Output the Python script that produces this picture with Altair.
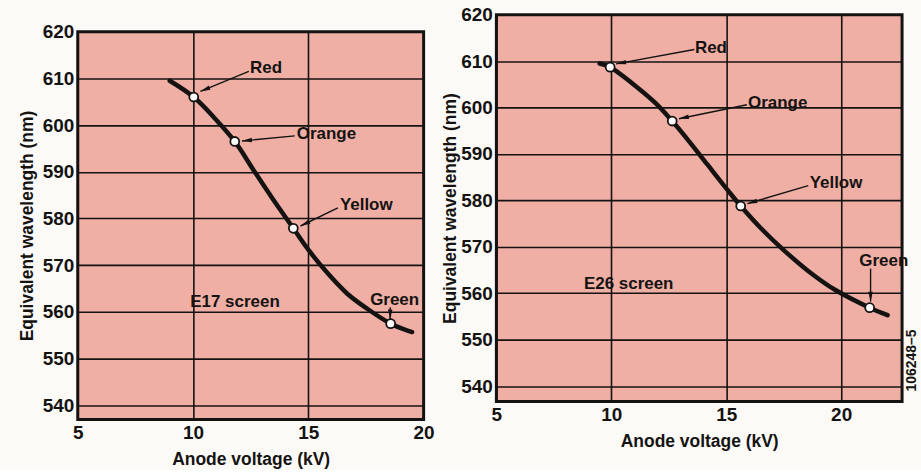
import math
import altair as alt
import pandas as pd

FONT = "Liberation Sans Narrow, Liberation Sans, sans-serif"
INK = "#151312"
PINK = "#EFAFA5"

# ---------------- E17 screen (left panel) ----------------
E17_CURVE_KV = [8.99, 10.03, 10.99, 11.81, 12.62, 13.43, 14.35, 15.05, 15.87, 16.69, 17.52, 18.57, 19.5]
E17_CURVE_NM = [609.5, 606.0, 601.2, 596.5, 590.4, 584.4, 577.9, 573.0, 568.1, 563.9, 560.8, 557.5, 555.7]
E17_MARK_KV = [10.03, 11.81, 14.35, 18.57]
E17_MARK_NM = [606.0, 596.5, 577.9, 557.5]
E17_LABELS = ["Red", "Orange", "Yellow", "Green"]
E17_LABEL_KV = [12.47, 14.5, 16.37, 17.68]
E17_LABEL_NM = [612.3, 598.1, 582.8, 562.5]
E17_ARROW_FROM_KV = [12.42, 14.41, 16.28, 18.55]
E17_ARROW_FROM_NM = [611.5, 597.7, 582.3, 561.0]
E17_ARROW_TO_KV = [10.32, 12.12, 14.66, 18.55]
E17_ARROW_TO_NM = [607.2, 596.6, 578.4, 558.4]
E17_SCREEN = ("E17 screen", 9.88, 562.1)

# ---------------- E26 screen (right panel) ----------------
E26_CURVE_KV = [9.49, 9.95, 11.12, 11.96, 12.65, 13.34, 14.17, 15.0, 15.63, 16.53, 17.5, 18.62, 19.75, 21.24, 22.02]
E26_CURVE_NM = [609.5, 608.7, 604.4, 600.8, 597.1, 593.0, 587.8, 582.6, 578.8, 573.9, 569.3, 564.6, 560.7, 556.9, 555.3]
E26_MARK_KV = [9.95, 12.65, 15.63, 21.24]
E26_MARK_NM = [608.7, 597.1, 578.8, 556.9]
E26_LABELS = ["Red", "Orange", "Yellow", "Green"]
E26_LABEL_KV = [13.64, 15.95, 18.63, 20.79]
E26_LABEL_NM = [612.8, 601.0, 583.7, 566.9]
E26_ARROW_FROM_KV = [13.61, 15.9, 18.57, 21.28]
E26_ARROW_FROM_NM = [612.5, 600.6, 583.2, 565.3]
E26_ARROW_TO_KV = [10.21, 12.94, 15.92, 21.28]
E26_ARROW_TO_NM = [609.4, 597.6, 579.3, 558.2]
E26_SCREEN = ("E26 screen", 8.81, 562.0)

FIG_CODE = ("106248\u20135", 23.1, 545.5)

X_TICKS_LEFT = [5, 10, 15, 20]
X_TICKS_RIGHT = [5, 10, 15, 20]
Y_TICKS = [540, 550, 560, 570, 580, 590, 600, 610, 620]

ARROW_PATH = "M0,0L0.45,2L-0.45,2Z"


def panel(curve_kv, curve_nm, mk_kv, mk_nm, labels, lab_kv, lab_nm,
          f_kv, f_nm, t_kv, t_nm, screen, xdom, ydom, xticks, w, h,
          y_title_pad, extra_text=None):
    sx = w / (xdom[1] - xdom[0])
    sy = h / (ydom[1] - ydom[0])
    xs = alt.Scale(domain=xdom, nice=False, zero=False)
    ys = alt.Scale(domain=ydom, nice=False, zero=False)

    curve = pd.DataFrame({"kv": curve_kv, "nm": curve_nm})
    marks = pd.DataFrame({"kv": mk_kv, "nm": mk_nm})
    labs = pd.DataFrame({"kv": lab_kv, "nm": lab_nm, "t": labels})
    angles = []
    for a, b, c, d in zip(f_kv, f_nm, t_kv, t_nm):
        dx = (c - a) * sx
        dy = -(d - b) * sy
        angles.append(math.degrees(math.atan2(dx, -dy)) % 360)
    arrows = pd.DataFrame({"x1": f_kv, "y1": f_nm, "x2": t_kv, "y2": t_nm, "ang": angles})
    scr = pd.DataFrame({"kv": [screen[1]], "nm": [screen[2]], "t": [screen[0]]})

    xaxis = alt.Axis(values=xticks, title="Anode voltage (kV)", grid=True, gridColor=INK,
                     gridWidth=1.6, gridOpacity=1, domain=False, ticks=False,
                     labelFont=FONT, labelFontSize=19, labelFontWeight="bold", labelColor=INK,
                     labelPadding=4, labelFlush=False, titleFont=FONT, titleFontSize=17.5,
                     titleFontWeight="bold", titleColor=INK, titlePadding=8)
    yaxis = alt.Axis(values=Y_TICKS, title="Equivalent wavelength (nm)", grid=True, gridColor=INK,
                     gridWidth=1.6, gridOpacity=1, domain=False, ticks=False,
                     labelFont=FONT, labelFontSize=19, labelFontWeight="bold", labelColor=INK,
                     labelPadding=4, titleFont=FONT, titleFontSize=17.5,
                     titleFontWeight="bold", titleColor=INK, titlePadding=y_title_pad)

    line = alt.Chart(curve).mark_line(color=INK, strokeWidth=4.5, interpolate="catmull-rom",
                                      strokeCap="round").encode(
        x=alt.X("kv:Q", scale=xs, axis=xaxis),
        y=alt.Y("nm:Q", scale=ys, axis=yaxis),
    )
    rules = alt.Chart(arrows).mark_rule(color=INK, strokeWidth=1.4).encode(
        x=alt.X("x1:Q", scale=xs), y=alt.Y("y1:Q", scale=ys), x2="x2:Q", y2="y2:Q")
    heads = alt.Chart(arrows).mark_point(shape=ARROW_PATH, filled=True, color=INK, size=100,
                                         opacity=1).encode(
        x=alt.X("x2:Q", scale=xs), y=alt.Y("y2:Q", scale=ys),
        angle=alt.Angle("ang:Q", scale=None))
    pts = alt.Chart(marks).mark_point(shape="circle", filled=True, fill="white", stroke=INK,
                                      strokeWidth=1.8, size=80, opacity=1).encode(
        x=alt.X("kv:Q", scale=xs), y=alt.Y("nm:Q", scale=ys))
    txt = alt.Chart(labs).mark_text(font=FONT, fontSize=17, fontWeight="bold", color=INK,
                                    align="left", baseline="middle").encode(
        x=alt.X("kv:Q", scale=xs), y=alt.Y("nm:Q", scale=ys), text="t:N")
    stxt = alt.Chart(scr).mark_text(font=FONT, fontSize=17, fontWeight="bold", color=INK,
                                    align="left", baseline="middle").encode(
        x=alt.X("kv:Q", scale=xs), y=alt.Y("nm:Q", scale=ys), text="t:N")
    layers = [line, pts, rules, heads, txt, stxt]
    if extra_text is not None:
        et = pd.DataFrame({"kv": [extra_text[1]], "nm": [extra_text[2]], "t": [extra_text[0]]})
        layers.append(alt.Chart(et).mark_text(font=FONT, fontSize=14, fontWeight="bold",
                                              color=INK, angle=270, align="center",
                                              baseline="middle").encode(
            x=alt.X("kv:Q", scale=xs), y=alt.Y("nm:Q", scale=ys), text="t:N"))
    return alt.layer(*layers).properties(width=w, height=h)


left_panel = panel(E17_CURVE_KV, E17_CURVE_NM, E17_MARK_KV, E17_MARK_NM, E17_LABELS,
                   E17_LABEL_KV, E17_LABEL_NM, E17_ARROW_FROM_KV, E17_ARROW_FROM_NM,
                   E17_ARROW_TO_KV, E17_ARROW_TO_NM, E17_SCREEN, [5, 20], [537, 620],
                   X_TICKS_LEFT, 347, 389, 6)

# invisible spacer that lowers the left panel, as in the reference layout
spacer = alt.Chart(pd.DataFrame({"a": [0]})).mark_point(opacity=0, size=1).encode(
    x=alt.X("a:Q", axis=None), y=alt.Y("a:Q", axis=None)
).properties(width=347, height=4,
             view=alt.ViewConfig(fill="transparent", stroke="transparent"))

left = alt.vconcat(spacer, left_panel, spacing=0)

right = panel(E26_CURVE_KV, E26_CURVE_NM, E26_MARK_KV, E26_MARK_NM, E26_LABELS,
              E26_LABEL_KV, E26_LABEL_NM, E26_ARROW_FROM_KV, E26_ARROW_FROM_NM,
              E26_ARROW_TO_KV, E26_ARROW_TO_NM, E26_SCREEN, [5, 22.65], [536.7, 620],
              X_TICKS_RIGHT, 407, 388, 1, extra_text=FIG_CODE)

chart = alt.hconcat(left, right, spacing=3).configure(
    background="#FBFAF7",
    padding={"left": 16, "top": 3, "right": 0, "bottom": 0},
).configure_view(fill=PINK, stroke=INK, strokeWidth=3)

chart.save("out.html", embed_options={"renderer": "svg", "actions": False})
